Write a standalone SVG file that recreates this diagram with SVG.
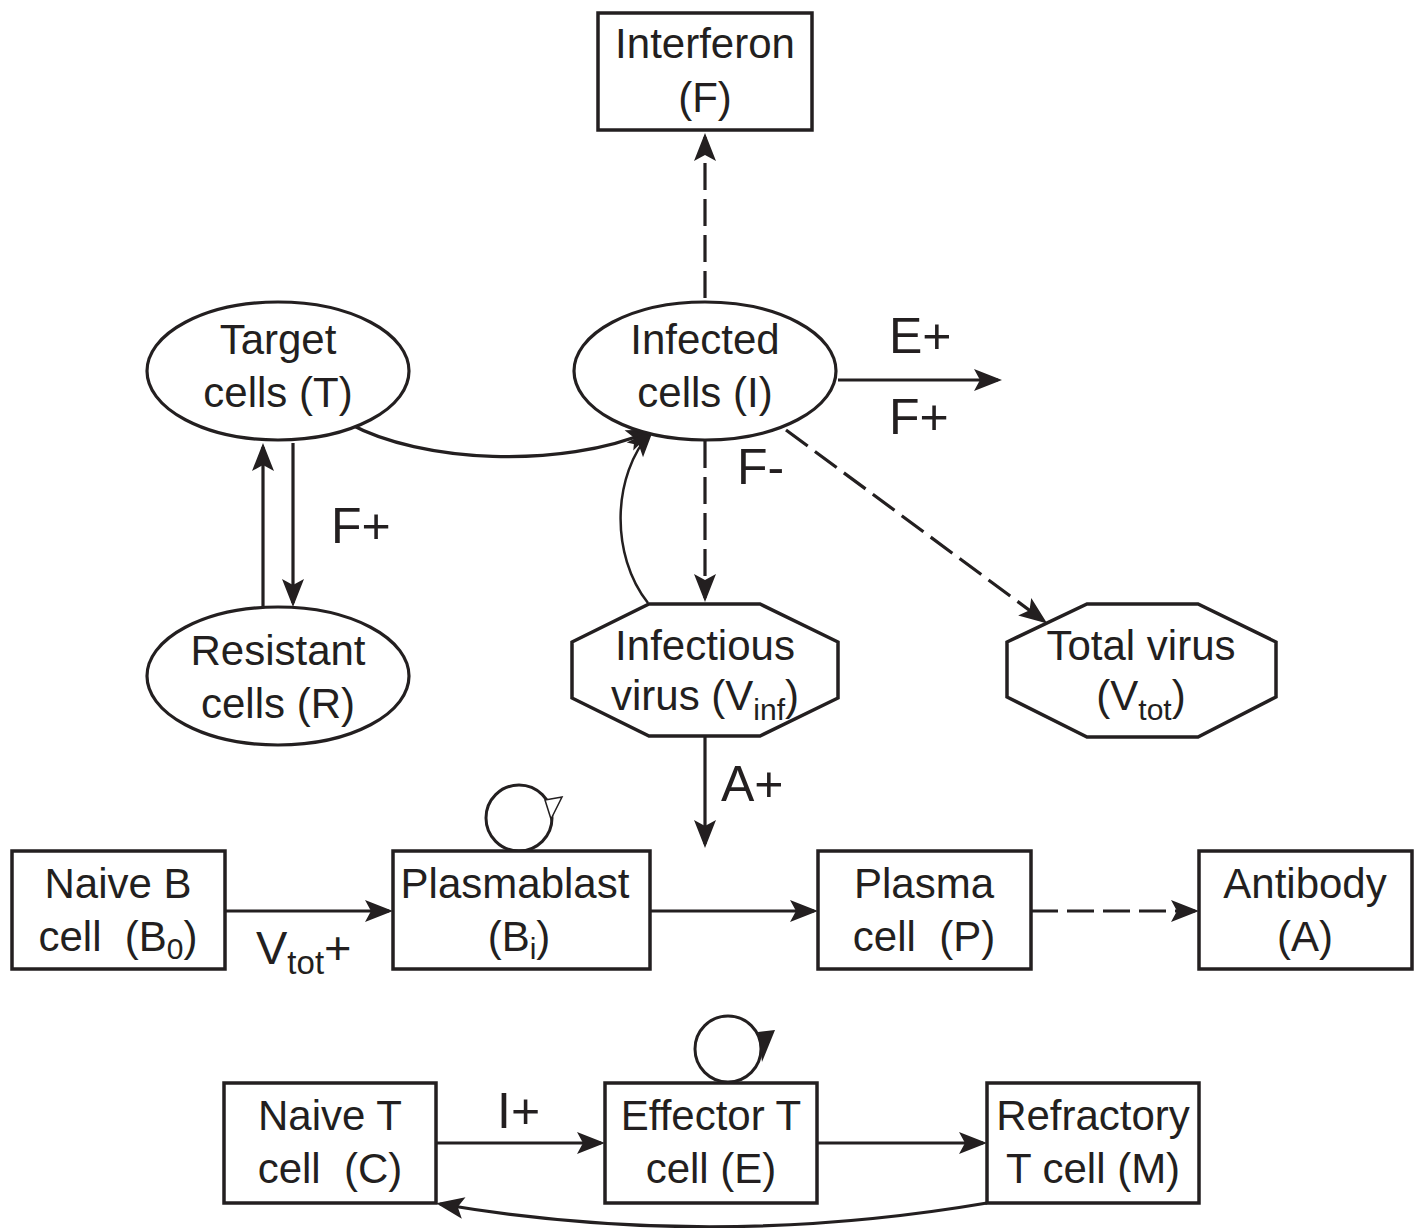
<svg xmlns="http://www.w3.org/2000/svg" width="1416" height="1228" viewBox="0 0 1416 1228">
<defs>
<style>
.t{font-family:"Liberation Sans",Arial,sans-serif;font-size:42px;fill:#231f20;text-anchor:middle}
.lb{font-family:"Liberation Sans",Arial,sans-serif;font-size:50px;fill:#231f20}
.sub{font-size:30px}
.box{fill:#fff;stroke:#231f20;stroke-width:3.5}
.ell{fill:#fff;stroke:#231f20;stroke-width:3.2}
.ln{fill:none;stroke:#231f20;stroke-width:3.2}
.dash{stroke-dasharray:27 9}
</style>
<marker id="ah" markerUnits="userSpaceOnUse" markerWidth="32" markerHeight="26" refX="24" refY="11" orient="auto" overflow="visible">
<path d="M0,0 L28,11 L0,22 L6,11 Z" fill="#231f20"/>
</marker>
</defs>

<g id="connectors">
<line class="ln dash" x1="705" y1="298" x2="705" y2="137" marker-end="url(#ah)"/>
<line class="ln" x1="838" y1="380" x2="998" y2="380" marker-end="url(#ah)"/>
<line class="ln" x1="263" y1="607" x2="263" y2="447" marker-end="url(#ah)"/>
<line class="ln" x1="293" y1="443" x2="293" y2="603" marker-end="url(#ah)"/>
<path class="ln" d="M350,424 C420,462 560,470 651,431" marker-end="url(#ah)"/>
<path class="ln" style="stroke-width:2.5" d="M648,603 C610,555 612,475 651,432" marker-end="url(#ah)"/>
<line class="ln dash" x1="705" y1="441" x2="705" y2="598" marker-end="url(#ah)"/>
<line class="ln dash" x1="786" y1="430" x2="1044" y2="621" marker-end="url(#ah)"/>
<line class="ln" x1="705" y1="737" x2="705" y2="844" marker-end="url(#ah)"/>
<line class="ln" x1="225" y1="911" x2="389" y2="911" marker-end="url(#ah)"/>
<line class="ln" x1="650" y1="911" x2="814" y2="911" marker-end="url(#ah)"/>
<line class="ln dash" x1="1031" y1="911" x2="1195" y2="911" marker-end="url(#ah)"/>
<line class="ln" x1="436" y1="1143" x2="601" y2="1143" marker-end="url(#ah)"/>
<line class="ln" x1="817" y1="1143" x2="983" y2="1143" marker-end="url(#ah)"/>
<path class="ln" d="M987,1203 Q711,1250 440,1204" marker-end="url(#ah)"/>
<circle cx="519" cy="818" r="33" fill="none" stroke="#231f20" stroke-width="3"/>
<polygon points="545,800 562,797 551,819" fill="#fff" stroke="#231f20" stroke-width="1.5"/>
<circle cx="728" cy="1049" r="33" fill="none" stroke="#231f20" stroke-width="3"/>
<polygon points="758,1032 775,1030 762,1062" fill="#231f20"/>
</g>

<g id="labels">
<text class="lb" x="889" y="353">E+</text>
<text class="lb" x="889" y="434">F+</text>
<text class="lb" x="331" y="543">F+</text>
<text class="lb" x="737" y="484">F-</text>
<text class="lb" x="721" y="801">A+</text>
<text class="lb" x="256" y="964" style="font-size:47px">V<tspan dy="10" style="font-size:33px">tot</tspan><tspan dy="-10">+</tspan></text>
<text class="lb" x="497" y="1128">I+</text>
</g>

<g id="interferon">
<rect class="box" x="598" y="13" width="214" height="117"/>
<text class="t" x="705" y="58">Interferon</text>
<text class="t" x="705" y="112">(F)</text>
</g>
<g id="target">
<ellipse class="ell" cx="278" cy="371" rx="131" ry="69"/>
<text class="t" x="278" y="354">Target</text>
<text class="t" x="278" y="407">cells (T)</text>
</g>
<g id="infected">
<ellipse class="ell" cx="705" cy="371" rx="131" ry="69"/>
<text class="t" x="705" y="354">Infected</text>
<text class="t" x="705" y="407">cells (I)</text>
</g>
<g id="resistant">
<ellipse class="ell" cx="278" cy="676" rx="131" ry="69"/>
<text class="t" x="278" y="665">Resistant</text>
<text class="t" x="278" y="718">cells (R)</text>
</g>
<g id="infectious-virus">
<polygon class="box" points="649,604 760,604 838,642 838,698 760,736 649,736 572,698 572,642"/>
<text class="t" x="705" y="660">Infectious</text>
<text class="t" x="705" y="710">virus (V<tspan class="sub" dy="10">inf</tspan><tspan dy="-10">)</tspan></text>
</g>
<g id="total-virus">
<polygon class="box" points="1087,604 1198,604 1276,642 1276,697 1198,737 1087,737 1007,697 1007,642"/>
<text class="t" x="1141" y="660">Total virus</text>
<text class="t" x="1141" y="710">(V<tspan class="sub" dy="10">tot</tspan><tspan dy="-10">)</tspan></text>
</g>
<g id="naive-b">
<rect class="box" x="12" y="851" width="213" height="118"/>
<text class="t" x="118" y="898">Naive B</text>
<text class="t" x="118" y="951" xml:space="preserve">cell  (B<tspan class="sub" dy="8">0</tspan><tspan dy="-8">)</tspan></text>
</g>
<g id="plasmablast">
<rect class="box" x="393" y="851" width="257" height="118"/>
<text class="t" x="515" y="898">Plasmablast</text>
<text class="t" x="519" y="951">(B<tspan class="sub" dy="8">i</tspan><tspan dy="-8">)</tspan></text>
</g>
<g id="plasma">
<rect class="box" x="818" y="851" width="213" height="118"/>
<text class="t" x="924" y="898">Plasma</text>
<text class="t" x="924" y="951" xml:space="preserve">cell  (P)</text>
</g>
<g id="antibody">
<rect class="box" x="1199" y="851" width="213" height="118"/>
<text class="t" x="1305" y="898">Antibody</text>
<text class="t" x="1305" y="951">(A)</text>
</g>
<g id="naive-t">
<rect class="box" x="224" y="1083" width="212" height="120"/>
<text class="t" x="330" y="1130">Naive T</text>
<text class="t" x="330" y="1183" xml:space="preserve">cell  (C)</text>
</g>
<g id="effector-t">
<rect class="box" x="605" y="1083" width="212" height="120"/>
<text class="t" x="711" y="1130">Effector T</text>
<text class="t" x="711" y="1183">cell (E)</text>
</g>
<g id="refractory-t">
<rect class="box" x="987" y="1083" width="212" height="120"/>
<text class="t" x="1093" y="1130">Refractory</text>
<text class="t" x="1093" y="1183">T cell (M)</text>
</g>
</svg>
